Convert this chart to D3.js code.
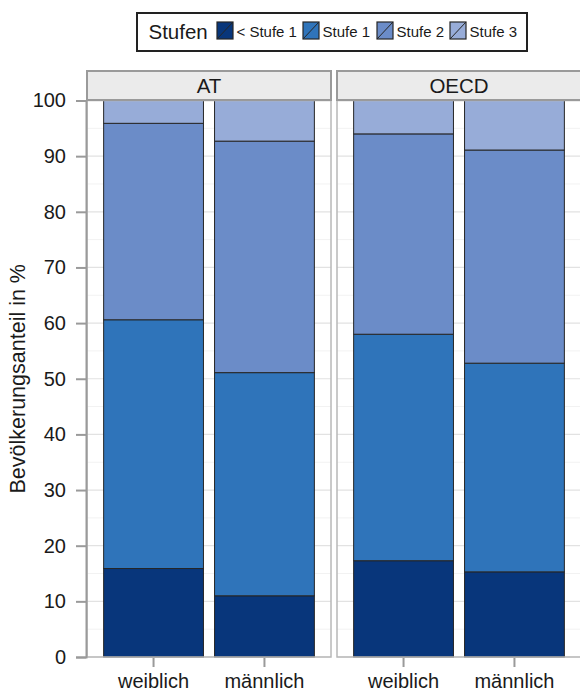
<!DOCTYPE html>
<html>
<head>
<meta charset="utf-8">
<script src="https://cdn.jsdelivr.net/npm/d3@7"></script>
<style>
  html, body { margin: 0; padding: 0; background: #fff; }
  svg { display: block; font-family: "Liberation Sans", Arial, Helvetica, sans-serif; }
</style>
</head>
<body>
<svg id="chart" width="580" height="693"></svg>
<script>
// ---- data ----
const panels = ["AT", "OECD"];
const categories = ["weiblich", "männlich"];
const levels = ["< Stufe 1", "Stufe 1", "Stufe 2", "Stufe 3"];
const colors = ["#08367b", "#2f74ba", "#6b8cc8", "#97acd8"];
const valuesAT = [
  [15.9, 44.7, 35.3, 4.1],   // weiblich
  [11.0, 40.1, 41.6, 7.3]    // männlich
];
const valuesOECD = [
  [17.3, 40.7, 36.0, 6.0],
  [15.3, 37.5, 38.3, 8.9]
];
const yTicks = [0, 10, 20, 30, 40, 50, 60, 70, 80, 90, 100];
const yMinor = [5, 15, 25, 35, 45, 55, 65, 75, 85, 95];
const legendTitle = "Stufen";
const yTitle = "Bevölkerungsanteil in %";

const svg = d3.select("#chart");

// layout
const panelTop = 100.5, panelBottom = 657;
const stripTop = 71, stripH = 29;
const panelX = [87, 337];
const panelW = 244;

const y = d3.scaleLinear().domain([0, 100]).range([panelBottom, panelTop]);
const color = d3.scaleOrdinal().domain(levels).range(colors);
const stack = d3.stack().keys(d3.range(levels.length));

const dataByPanel = { AT: valuesAT, OECD: valuesOECD };

panels.forEach((p, pi) => {
  const x0 = panelX[pi];
  const unit = panelW / 2.2;
  const x = d3.scalePoint().domain(categories)
    .range([x0 + unit * 0.6, x0 + unit * 1.6]);
  const bw = unit * 0.9;

  const g = svg.append("g");
  g.append("rect").attr("x", x0).attr("y", panelTop).attr("width", panelW)
    .attr("height", panelBottom - panelTop).attr("fill", "#fff");
  g.selectAll("line.minor").data(yMinor).enter().append("line")
    .attr("x1", x0).attr("x2", x0 + panelW)
    .attr("y1", d => y(d)).attr("y2", d => y(d))
    .attr("stroke", "#f2f2f2").attr("stroke-width", 1);
  g.selectAll("line.major").data(yTicks).enter().append("line")
    .attr("x1", x0).attr("x2", x0 + panelW)
    .attr("y1", d => y(d)).attr("y2", d => y(d))
    .attr("stroke", "#e2e2e2").attr("stroke-width", 1.2);

  const rows = dataByPanel[p];
  const series = stack(rows);
  series.forEach((s, li) => {
    g.selectAll(null).data(s).enter().append("rect")
      .attr("x", (d, i) => x(categories[i]) - bw / 2)
      .attr("width", bw)
      .attr("y", d => y(d[1]))
      .attr("height", d => y(d[0]) - y(d[1]))
      .attr("fill", color(levels[li]))
      .attr("stroke", "#262626").attr("stroke-width", 1);
  });

  g.append("rect").attr("x", x0).attr("y", panelTop).attr("width", panelW)
    .attr("height", panelBottom - panelTop).attr("fill", "none")
    .attr("stroke", "#b8b8b8").attr("stroke-width", 1.5);

  g.append("rect").attr("x", x0).attr("y", stripTop).attr("width", panelW)
    .attr("height", stripH).attr("fill", "#ebebeb")
    .attr("stroke", "#9a9a9a").attr("stroke-width", 2);
  g.append("text").attr("x", x0 + panelW / 2).attr("y", stripTop + stripH / 2 + 7.5)
    .attr("text-anchor", "middle").attr("font-size", 20.5).attr("fill", "#1a1a1a").text(p);

  categories.forEach(c => {
    g.append("line").attr("x1", x(c)).attr("x2", x(c))
      .attr("y1", panelBottom + 1).attr("y2", panelBottom + 10)
      .attr("stroke", "#9a9a9a").attr("stroke-width", 2);
    g.append("text").attr("x", x(c)).attr("y", 688)
      .attr("text-anchor", "middle").attr("font-size", 20).attr("fill", "#1a1a1a").text(c);
  });
});

// y axis
const yAxisG = svg.append("g").attr("transform", `translate(${panelX[0] - 1},0)`)
  .call(d3.axisLeft(y).tickValues(yTicks).tickSize(10).tickPadding(10));
yAxisG.select(".domain").attr("stroke", "#9a9a9a").attr("stroke-width", 2);
yAxisG.selectAll(".tick line").attr("stroke", "#9a9a9a").attr("stroke-width", 2);
yAxisG.selectAll(".tick text").attr("font-size", 20).attr("fill", "#1a1a1a")
  .attr("font-family", "Liberation Sans, Arial, sans-serif");

svg.append("text")
  .attr("transform", `translate(25,${(panelTop + panelBottom) / 2}) rotate(-90)`)
  .attr("text-anchor", "middle").attr("font-size", 21.5).attr("fill", "#1a1a1a")
  .text(yTitle);

// legend
const lg = svg.append("g");
lg.append("rect").attr("x", 137).attr("y", 13).attr("width", 390).attr("height", 38)
  .attr("fill", "#fff").attr("stroke", "#222").attr("stroke-width", 2);
lg.append("text").attr("x", 148.5).attr("y", 39).attr("font-size", 20.5).attr("fill", "#1a1a1a")
  .text(legendTitle);
const keyX = [217, 303, 377, 450];
levels.forEach((l, i) => {
  const kx = keyX[i], ky = 22;
  lg.append("rect").attr("x", kx).attr("y", ky).attr("width", 16).attr("height", 17)
    .attr("fill", color(l)).attr("stroke", "#262626").attr("stroke-width", 1.2);
  lg.append("line").attr("x1", kx).attr("y1", ky + 17).attr("x2", kx + 16).attr("y2", ky)
    .attr("stroke", "#262626").attr("stroke-width", 1);
  lg.append("text").attr("x", kx + 19.5).attr("y", 36.5).attr("font-size", 15).attr("fill", "#1a1a1a")
    .text(l);
});
</script>
</body>
</html>
